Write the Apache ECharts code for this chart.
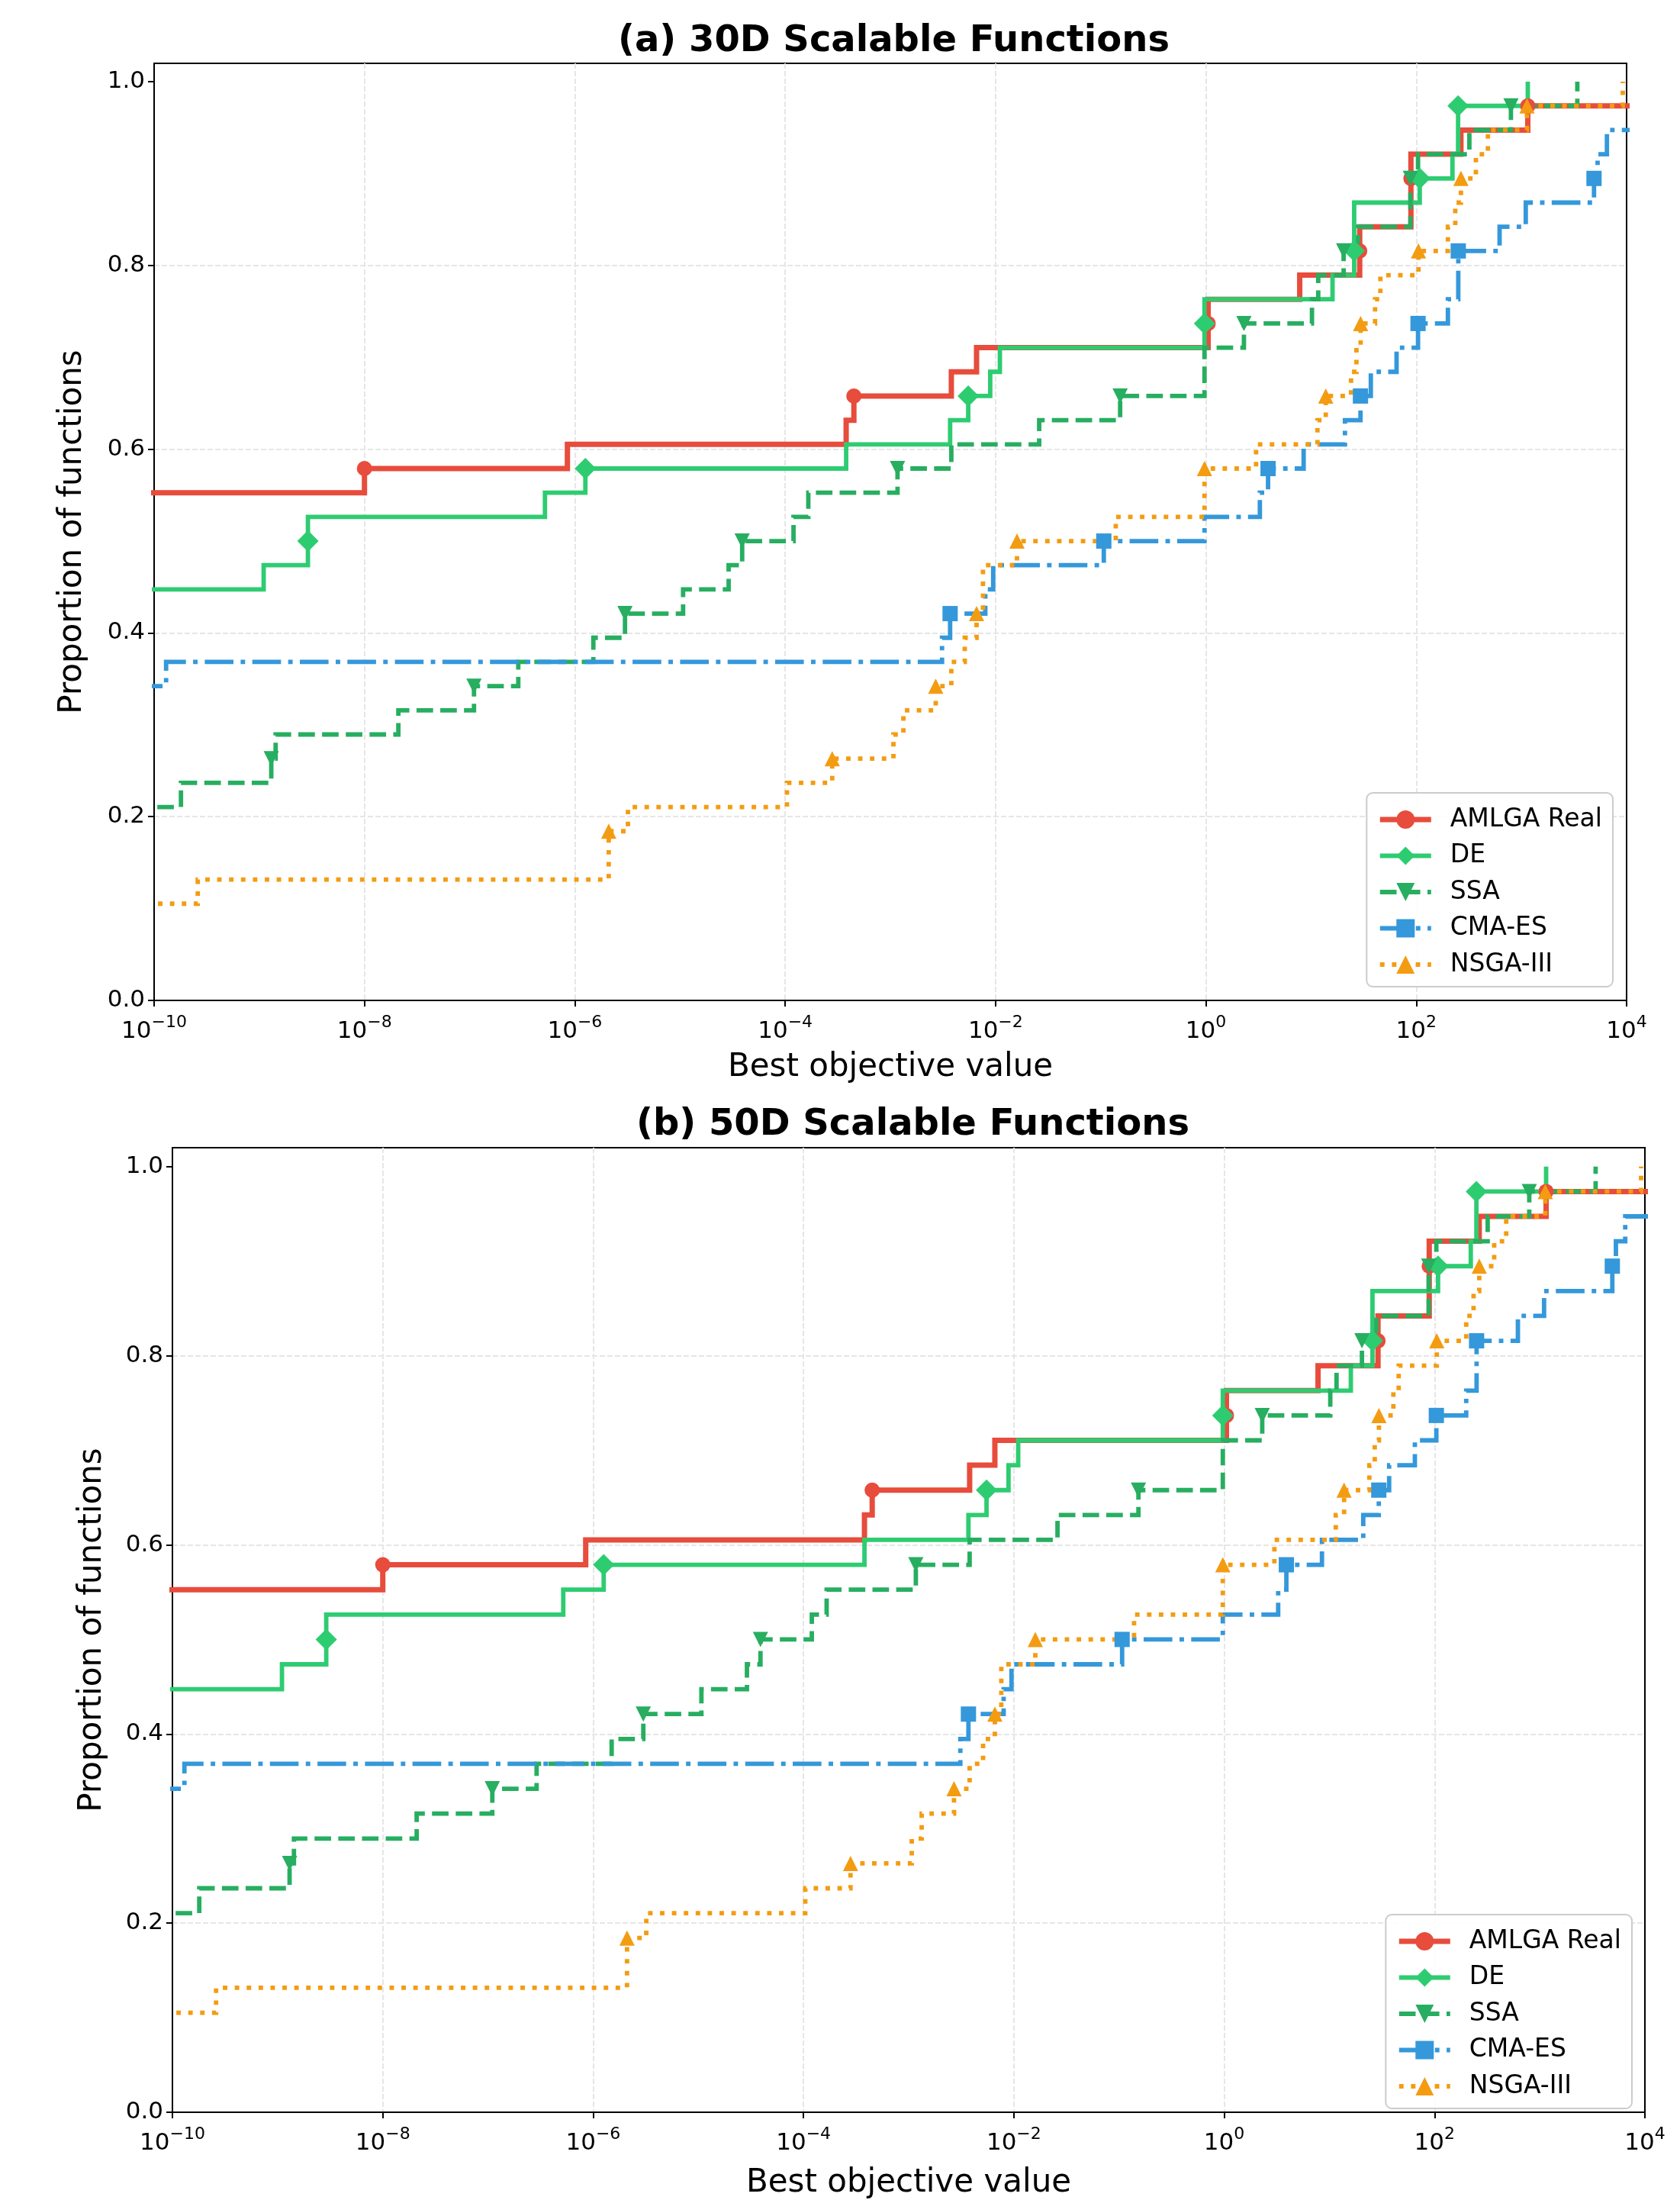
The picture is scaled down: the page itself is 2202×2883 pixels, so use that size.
<!DOCTYPE html>
<html>
<head>
<meta charset="utf-8">
<script src="https://cdn.jsdelivr.net/npm/echarts@6/dist/echarts.min.js"></script>
<style>
html,body{margin:0;padding:0;background:#fff;}
#chart{width:2202px;height:2883px;}
</style>
</head>
<body>
<div id="chart"></div>
<script>
// ---------------- DATA ----------------
const N_FUNCTIONS = 38;
const BELOW_AXIS = 1e-12; // stand-in for best values below 1e-10 (left of the visible axis)

const algorithmNames = ['AMLGA Real', 'DE', 'SSA', 'CMA-ES', 'NSGA-III'];
const panelTitles = ['(a) 30D Scalable Functions', '(b) 50D Scalable Functions'];
const xTickExponents = [-10, -8, -6, -4, -2, 0, 2, 4];
const yTickValues = [0, 0.2, 0.4, 0.6, 0.8, 1.0];

// best objective value at which each cumulative count of solved functions is reached
const amlgaX = [BELOW_AXIS, 1.0e-8, 8.5e-7, 3.8e-4, 4.5e-4, 3.8e-3, 6.6e-3, 1.05, 1.05, 7.8, 29, 29, 89, 89, 89, 266, 1150, 2.0e4];
const amlgaCount = [21, 22, 23, 24, 25, 26, 27, 28, 29, 30, 31, 32, 33, 34, 35, 36, 37, 38];

const deX = [BELOW_AXIS, 1.1e-9, 2.9e-9, 2.9e-9, 5.2e-7, 1.26e-6, 3.8e-4, 3.7e-3, 5.5e-3, 8.9e-3, 1.1e-2, 0.97, 0.97, 16, 25.7, 25.7, 25.7, 108, 221, 250, 250, 1150];
const deCount = [17, 18, 19, 20, 21, 22, 23, 24, 25, 26, 27, 28, 29, 30, 31, 32, 33, 34, 35, 36, 37, 38];

const ssaX = [BELOW_AXIS, 1.8e-10, 1.3e-9, 1.43e-9, 2.1e-8, 1.1e-7, 2.9e-7, 1.5e-6, 3.0e-6, 1.07e-5, 2.9e-5, 3.9e-5, 1.2e-4, 1.66e-4, 1.17e-3, 3.8e-3, 2.6e-2, 0.153, 0.97, 0.97, 2.3, 10.2, 11.7, 20.4, 28, 88, 88, 104, 320, 795, 3400];
const ssaCount = [8, 9, 10, 11, 12, 13, 14, 15, 16, 17, 18, 19, 20, 21, 22, 23, 24, 25, 26, 27, 28, 29, 30, 31, 32, 33, 34, 35, 36, 37, 38];

const cmaX = [BELOW_AXIS, 1.3e-10, 3.1e-3, 3.7e-3, 8.0e-3, 9.5e-3, 0.107, 0.97, 3.26, 3.9, 8.5, 21, 29.5, 37, 65, 104, 200, 251, 251, 620, 1100, 4900, 5300, 6500, 2.0e4, 3.0e4];
const cmaCount = [13, 14, 15, 16, 17, 18, 19, 20, 21, 22, 23, 24, 25, 26, 27, 28, 29, 30, 31, 32, 33, 34, 35, 36, 37, 38];

const nsgaX = [BELOW_AXIS, 2.6e-10, 2.1e-6, 2.1e-6, 3.2e-6, 1.04e-4, 2.8e-4, 1.07e-3, 1.33e-3, 2.7e-3, 3.8e-3, 5.1e-3, 6.6e-3, 7.6e-3, 7.6e-3, 1.6e-2, 0.139, 0.97, 0.97, 3.0, 11.5, 13.8, 24, 27, 29.6, 40.6, 45.6, 105, 200, 235, 266, 369, 480, 1130, 9200];
const nsgaCount = [4, 5, 6, 7, 8, 9, 10, 11, 12, 13, 14, 15, 16, 17, 18, 19, 20, 21, 22, 23, 24, 25, 26, 27, 28, 29, 30, 31, 32, 33, 34, 35, 36, 37, 38];

// The 50D panel shows the same step values as the 30D panel in the reference
const panelData = [
  [[amlgaX, amlgaCount], [deX, deCount], [ssaX, ssaCount], [cmaX, cmaCount], [nsgaX, nsgaCount]],
  [[amlgaX, amlgaCount], [deX, deCount], [ssaX, ssaCount], [cmaX, cmaCount], [nsgaX, nsgaCount]]
];

// ---------------- STYLE ----------------
const FONT = 'DejaVu Sans';
const seriesStyle = [
  {color: '#e74c3c', width: 7,   dash: 'solid',                 symbol: 'circle',                 size: 20},
  {color: '#2ecc71', width: 5.8, dash: 'solid',                 symbol: 'diamond',                size: 28},
  {color: '#27ae60', width: 5.8, dash: [21.7, 9.4],             symbol: 'path://M0,0L2,0L1,2Z',    size: 20},
  {color: '#3498db', width: 5.8, dash: [37.6, 9.4, 5.9, 9.4],   symbol: 'rect',                   size: 20},
  {color: '#f39c12', width: 5.8, dash: [5.9, 9.7],              symbol: 'triangle',               size: 20}
];
const layouts = [
  {grid: {left: 202, top: 83, width: 1930, height: 1228}, titleLeft: 805, titleTop: 26,
   xNameGap: 67, yNameGap: 86, legend: {right: 88, bottom: 1590}},
  {grid: {left: 226, top: 1504, width: 1930, height: 1278}, titleLeft: 829, titleTop: 1446,
   xNameGap: 72, yNameGap: 84, legend: {right: 63, bottom: 120}}
];

const supMinus = e => (e < 0 ? '\u2212' + (-e) : String(e));

const option = {
  animation: false,
  backgroundColor: '#ffffff',
  title: [], grid: [], xAxis: [], yAxis: [], legend: [], series: []
};

layouts.forEach((L, p) => {
  option.title.push({
    text: panelTitles[p], left: L.titleLeft, top: L.titleTop,
    textStyle: {fontFamily: FONT, fontSize: 48, fontWeight: 'bold', color: '#000'}
  });
  option.grid.push(Object.assign({show: true, borderColor: '#000', borderWidth: 2, backgroundColor: 'transparent'}, L.grid));
  option.xAxis.push({
    type: 'value', gridIndex: p,
    min: xTickExponents[0], max: xTickExponents[xTickExponents.length - 1], interval: 2,
    name: 'Best objective value', nameLocation: 'middle', nameGap: L.xNameGap,
    nameTextStyle: {fontFamily: FONT, fontSize: 42, color: '#000'},
    axisLine: {show: true, onZero: false, lineStyle: {color: '#000', width: 2}},
    axisTick: {show: true, inside: false, length: 8, lineStyle: {color: '#000', width: 2}},
    axisLabel: {
      margin: 18,
      formatter: v => '{b|10}{s|' + supMinus(Math.round(v)) + '}',
      rich: {
        b: {fontFamily: FONT, fontSize: 31, color: '#000', verticalAlign: 'bottom', lineHeight: 34},
        s: {fontFamily: FONT, fontSize: 22, color: '#000', verticalAlign: 'bottom', padding: [0, 0, 16, 0]}
      }
    },
    splitLine: {show: true, showMinLine: false, showMaxLine: false,
                lineStyle: {color: '#e6e6e6', width: 2, type: [7, 3]}}
  });
  option.yAxis.push({
    type: 'value', gridIndex: p, min: 0, max: 1.02, interval: 0.2,
    name: 'Proportion of functions', nameLocation: 'middle', nameGap: L.yNameGap,
    nameTextStyle: {fontFamily: FONT, fontSize: 42, color: '#000'},
    axisLine: {show: true, onZero: false, lineStyle: {color: '#000', width: 2}},
    axisTick: {show: true, inside: false, length: 8, lineStyle: {color: '#000', width: 2}, customValues: yTickValues},
    axisLabel: {
      margin: 12, fontFamily: FONT, fontSize: 31, color: '#000', customValues: yTickValues,
      formatter: v => (v > 1.001 ? '' : v.toFixed(1))
    },
    splitLine: {show: true, showMinLine: false, showMaxLine: false,
                lineStyle: {color: '#e6e6e6', width: 2, type: [7, 3]}}
  });
  option.legend.push(Object.assign({
    data: algorithmNames.map((n, k) => ({
      name: n,
      lineStyle: {width: seriesStyle[k].width, color: seriesStyle[k].color, type: seriesStyle[k].dash}
    })),
    orient: 'vertical',
    itemWidth: 67, itemHeight: 30, itemGap: 11.5,
    textStyle: {fontFamily: FONT, fontSize: 33, color: '#000', lineHeight: 36, padding: [0, 0, 0, 20]},
    backgroundColor: 'rgba(255,255,255,0.85)', borderColor: '#cccccc', borderWidth: 2, borderRadius: 8,
    padding: [17, 14, 11, 14], selectedMode: false
  }, L.legend));

  panelData[p].forEach(([xs, counts], k) => {
    const st = seriesStyle[k];
    const data = xs.map((x, i) => {
      const c = counts[i];
      const inRange = x >= 1e-10 && x <= 1e4;
      const marked = inRange && c % 3 === 1;
      return {value: [Math.log10(x), c / N_FUNCTIONS], symbol: marked ? st.symbol : 'none'};
    });
    option.series.push({
      name: algorithmNames[k], type: 'line', xAxisIndex: p, yAxisIndex: p,
      step: 'end', data: data, clip: true,
      symbol: st.symbol, symbolSize: st.size, showSymbol: true, showAllSymbol: true,
      lineStyle: {color: st.color, width: st.width, type: st.dash, cap: 'butt', join: 'miter'},
      itemStyle: {color: st.color, borderWidth: 0},
      emphasis: {disabled: true}
    });
  });
});

const chart = echarts.init(document.getElementById('chart'), null, {renderer: 'canvas'});
chart.setOption(option);
</script>
</body>
</html>
